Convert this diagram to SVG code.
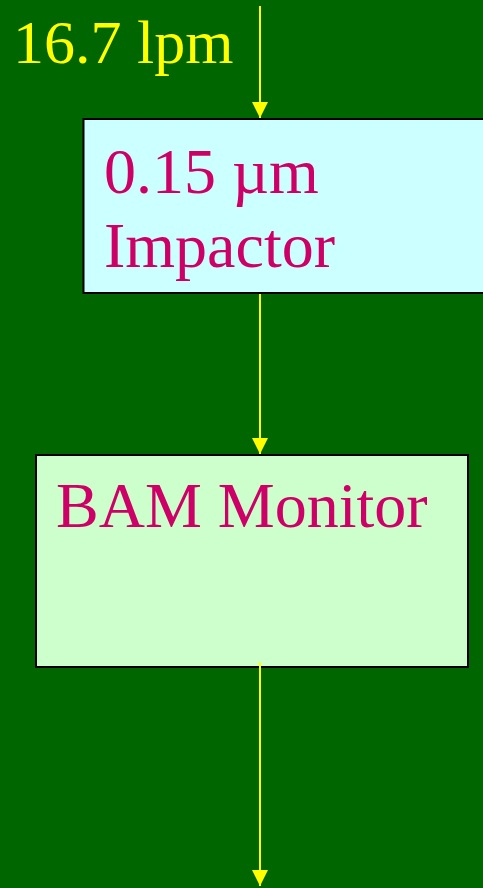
<svg xmlns="http://www.w3.org/2000/svg" width="483" height="888" viewBox="0 0 483 888">
  <style>
    .lbl { font-family: "Liberation Serif", "Times New Roman", serif; font-size: 64px; }
    .node-text { fill: #CC0066; }
    .flow { stroke: #FFFF00; stroke-width: 2; fill: none; }
    .box { stroke: #000000; stroke-width: 2; }
  </style>
  <defs>
    <marker id="arrow" viewBox="0 0 16 16" refX="16" refY="8" markerWidth="16" markerHeight="16" markerUnits="userSpaceOnUse" orient="auto">
      <path d="M0,0 L16,8 L0,16 Z" fill="#FFFF00"/>
    </marker>
  </defs>
  <rect x="0" y="0" width="483" height="888" fill="#006600"/>

  <g id="node-impactor">
    <rect class="box" x="83.5" y="119" width="410" height="174" fill="#CCFFFF"/>
    <text class="lbl node-text" x="104" y="193">0.15 µm</text>
    <text class="lbl node-text" x="104" y="267">Impactor</text>
  </g>

  <g id="node-bam">
    <rect class="box" x="36" y="455" width="432" height="212" fill="#CCFFCC"/>
    <text class="lbl node-text" x="56" y="527">BAM Monitor</text>
  </g>

  <g id="flow-label">
    <text class="lbl" x="13" y="63" fill="#FFFF00" style="font-size:62px">16.7 lpm</text>
  </g>

  <g id="connectors">
    <line class="flow" x1="260" y1="6" x2="260" y2="118" marker-end="url(#arrow)"/>
    <line class="flow" x1="260" y1="294" x2="260" y2="454" marker-end="url(#arrow)"/>
    <line class="flow" x1="260" y1="662" x2="260" y2="886" marker-end="url(#arrow)"/>
  </g>
</svg>
